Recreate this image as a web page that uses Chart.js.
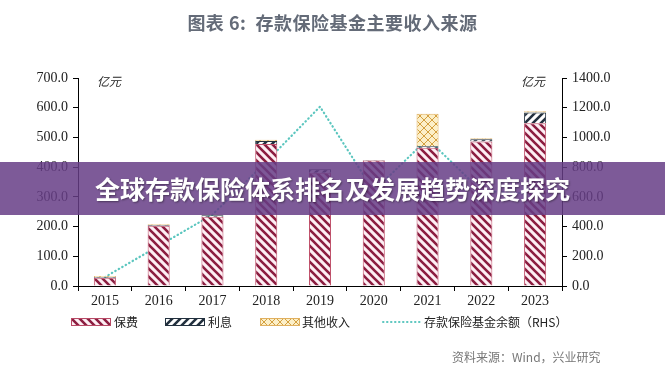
<!DOCTYPE html>
<html lang="zh">
<head>
    <meta charset="UTF-8">
    <title>存款保险基金主要收入来源</title>
    <script src="https://cdn.jsdelivr.net/npm/chart.js"></script>
    <style>
        body { margin: 0; background: #fff; }
        .wrap { position: relative; width: 665px; height: 379px; overflow: hidden; }
        .title {
            position: absolute; top: 9px; left: 0; width: 665px; text-align: center;
            font-family: "Noto Sans CJK SC", sans-serif; font-size: 18px; font-weight: bold; color: #646b78;
            letter-spacing: 0.5px;
        }
        .unit {
            position: absolute; top: 72px; font-family: "Noto Sans CJK SC", sans-serif;
            font-size: 12px; color: #222; font-style: italic;
        }
        .legend {
            position: absolute; top: 314px; left: 0; width: 665px; height: 16px;
            font-family: "Noto Sans CJK SC", sans-serif; font-size: 12px; color: #222;
        }
        .legend span { position: absolute; top: 0; line-height: 16px; }
        .legend canvas { position: absolute; top: 4px; }
        .banner {
            position: absolute; top: 162px; left: 0; width: 665px; height: 53px;
            background: rgba(102, 61, 134, 0.85); color: #fff; text-align: center;
            font-family: "Noto Sans CJK SC", sans-serif; font-size: 25px; font-weight: bold;
            line-height: 53px; text-shadow: 1px 1px 2px rgba(0,0,0,0.4);
        }
        .source {
            position: absolute; top: 348px; left: 452px; font-family: "Noto Sans CJK SC", sans-serif;
            font-size: 12px; color: #777;
        }
    </style>
</head>
<body>
    <div class="wrap">
        <canvas id="chart" width="665" height="379"></canvas>
        <div class="title">图表 6:&nbsp;&nbsp;存款保险基金主要收入来源</div>
        <div class="unit" style="left:97px;">亿元</div>
        <div class="unit" style="left:521px;">亿元</div>
        <div class="legend">
            <canvas id="lg0" width="40" height="8" style="left:71px;"></canvas><span style="left:114px;">保费</span>
            <canvas id="lg1" width="40" height="8" style="left:165px;"></canvas><span style="left:208px;">利息</span>
            <canvas id="lg2" width="40" height="8" style="left:260px;"></canvas><span style="left:302px;">其他收入</span>
            <canvas id="lg3" width="40" height="8" style="left:382px;"></canvas><span style="left:424px;">存款保险基金余额（RHS）</span>
        </div>
        <div class="banner">全球存款保险体系排名及发展趋势深度探究</div>
        <div class="source">资料来源：Wind，兴业研究</div>
    </div>

    <script>
        // data (亿元)
        const years = ['2015', '2016', '2017', '2018', '2019', '2020', '2021', '2022', '2023'];
        const premium = [28, 203, 233, 478, 381, 422, 465, 486, 548];
        const interest = [2, 2, 5, 10, 12, 2, 5, 8, 36];
        const otherIncome = [4, 3, 3, 4, 1, 0, 110, 3, 4];
        const fundBalance = [60, 270, 480, 836, 1207, 640, 990, 640, 620];
        const leftTicks = [0, 100, 200, 300, 400, 500, 600, 700];
        const rightTicks = [0, 200, 400, 600, 800, 1000, 1200, 1400];

        // hatch patterns
        function stripes(bg, fg, dir) {
            const n = 8;
            const c = document.createElement('canvas');
            c.width = n; c.height = n;
            const g = c.getContext('2d');
            g.fillStyle = bg; g.fillRect(0, 0, n, n);
            g.strokeStyle = fg; g.lineWidth = 2.6;
            g.beginPath();
            if (dir === 'back') {
                g.moveTo(-2, -2); g.lineTo(n + 2, n + 2);
                g.moveTo(-n - 2, -2); g.lineTo(2, n + 2);
                g.moveTo(n - 2, -2); g.lineTo(2 * n + 2, n + 2);
            } else {
                g.moveTo(-2, n + 2); g.lineTo(n + 2, -2);
                g.moveTo(-n - 2, n + 2); g.lineTo(2, -2);
                g.moveTo(n - 2, n + 2); g.lineTo(2 * n + 2, -2);
            }
            g.stroke();
            return g.createPattern(c, 'repeat');
        }
        function crossHatch(bg, fg) {
            const c = document.createElement('canvas');
            c.width = 8; c.height = 8;
            const g = c.getContext('2d');
            g.fillStyle = bg; g.fillRect(0, 0, 8, 8);
            g.strokeStyle = fg; g.lineWidth = 1;
            g.beginPath();
            g.moveTo(0, 0); g.lineTo(8, 8);
            g.moveTo(0, 8); g.lineTo(8, 0);
            g.stroke();
            return g.createPattern(c, 'repeat');
        }

        const premiumFill = stripes('#fdeef3', '#8c1d40', 'back');
        const interestFill = stripes('#ffffff', '#22303e', 'fwd');
        const otherFill = crossHatch('#fcefc8', '#d4a040');

        const lineColor = '#5cc6bf';

        // legend swatches
        function swatch(id, fill, border) {
            const g = document.getElementById(id).getContext('2d');
            g.fillStyle = fill; g.fillRect(0, 0, 40, 8);
            g.strokeStyle = border; g.lineWidth = 1; g.strokeRect(0.5, 0.5, 39, 7);
        }
        swatch('lg0', premiumFill, '#b84a66');
        swatch('lg1', interestFill, '#22303e');
        swatch('lg2', otherFill, '#e0b060');
        (function () {
            const g = document.getElementById('lg3').getContext('2d');
            g.strokeStyle = lineColor; g.lineWidth = 2; g.lineCap = 'round'; g.setLineDash([0.5, 3.5]);
            g.beginPath(); g.moveTo(1, 4); g.lineTo(40, 4); g.stroke();
        })();

        const serif = { family: '"Liberation Serif", serif', size: 14 };

        new Chart(document.getElementById('chart').getContext('2d'), {
            type: 'bar',
            data: {
                labels: years,
                datasets: [
                    { label: '保费', data: premium, backgroundColor: premiumFill, borderColor: '#c0506a', borderWidth: 1, yAxisID: 'y', order: 1 },
                    { label: '利息', data: interest, backgroundColor: interestFill, borderColor: '#22303e', borderWidth: 1, yAxisID: 'y', order: 1 },
                    { label: '其他收入', data: otherIncome, backgroundColor: otherFill, borderColor: '#e0b060', borderWidth: 1, yAxisID: 'y', order: 1 },
                    {
                        type: 'line', label: '存款保险基金余额（RHS）', data: fundBalance, yAxisID: 'y1', order: 2,
                        borderColor: lineColor, borderWidth: 2.2, borderDash: [0.5, 3.5], borderCapStyle: 'round',
                        pointRadius: 0, fill: false, tension: 0
                    }
                ]
            },
            options: {
                responsive: false,
                animation: false,
                layout: { padding: { top: 78, bottom: 69, left: 0, right: 0 } },
                plugins: { legend: { display: false }, tooltip: { enabled: false }, title: { display: false } },
                datasets: { bar: { categoryPercentage: 1, barPercentage: 0.41 } },
                scales: {
                    x: {
                        stacked: true,
                        grid: { display: true, drawOnChartArea: false, drawTicks: true, tickLength: 5, color: '#000', offset: true },
                        border: { display: true, color: '#000' },
                        ticks: { color: '#222', font: serif, padding: 2 },
                        afterFit: s => { s.height = 24; }
                    },
                    y: {
                        stacked: true, position: 'left', min: 0, max: 700,
                        afterBuildTicks: s => { s.ticks = leftTicks.map(v => ({ value: v })); },
                        grid: { display: true, drawOnChartArea: false, drawTicks: true, tickLength: 5, color: '#000' },
                        border: { display: true, color: '#000' },
                        ticks: { color: '#222', font: serif, padding: 5, callback: v => v.toFixed(1) },
                        afterFit: s => { s.width = 78; }
                    },
                    y1: {
                        position: 'right', min: 0, max: 1400,
                        afterBuildTicks: s => { s.ticks = rightTicks.map(v => ({ value: v })); },
                        grid: { display: true, drawOnChartArea: false, drawTicks: true, tickLength: 5, color: '#000' },
                        border: { display: true, color: '#000' },
                        ticks: { color: '#222', font: serif, padding: 5, callback: v => v.toFixed(1) },
                        afterFit: s => { s.width = 103; }
                    }
                }
            }
        });
    </script>
</body>
</html>
